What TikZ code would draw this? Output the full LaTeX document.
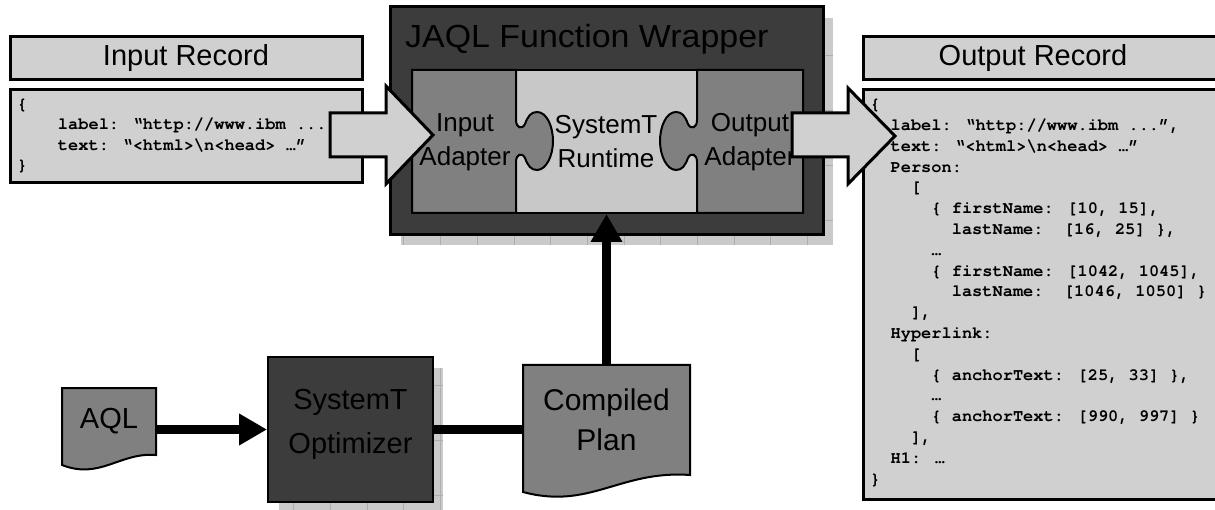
\documentclass[tikz,border=0pt]{standalone}
\usepackage{fontspec}
\setmainfont{Liberation Sans}
\newfontfamily\codefont{texgyrecursor-bold.otf}[Ligatures=NoCommon]
\usetikzlibrary{positioning, arrows.meta, calc}

\definecolor{recgray}{HTML}{D0D0D0}
\definecolor{rungray}{HTML}{C8C8C8}
\definecolor{midgray}{HTML}{808080}
\definecolor{wrapgray}{HTML}{3C3C3C}
\definecolor{shadowgray}{HTML}{CACACA}
\definecolor{gridgray}{HTML}{ADADAD}
\newcommand\ind[1]{\hspace*{#1em}}

\begin{document}
\begin{tikzpicture}
[x=1pt,y=-1pt,
 recbox/.style={draw,line width=3pt,fill=recgray,inner sep=0pt},
 rectitle/.style={font=\fontsize{29}{34}\selectfont,inner sep=0pt},
 code/.style={font=\codefont\fontsize{17}{20.8}\selectfont,
              align=left,inner sep=0pt,anchor=north west},
 darkbox/.style={draw,line width=2.5pt,fill=wrapgray,inner sep=0pt},
 piece/.style={draw,line width=2pt,fill=midgray},
 piecetext/.style={font=\fontsize{26}{34}\selectfont,align=center,inner sep=0pt},
 doc/.style={draw,line width=2pt,fill=midgray},
 doctext/.style={inner sep=0pt,align=center},
 shadowbox/.style={fill=shadowgray},
 shadowgrid/.style={draw=gridgray,line width=0.6pt,xstep=36.7pt,ystep=55pt},
 flow/.style={line width=9pt,-{Triangle[length=28pt,width=30pt]}},
 bigarrow/.style={draw,line width=3pt,fill=recgray,line join=miter}]

\clip (0,0) rectangle (1215,510);

% wrapper with its shadow
\fill[shadowbox] (400,17) rectangle (833,245);
\draw[shadowgrid] (400,17) grid (833,245);
\draw[white,line width=0.8pt] (400,17) rectangle (833,245);
\node[darkbox,line width=3pt,minimum width=433pt,minimum height=228pt] (wrapper) at (606.5,121) {};
\node[font=\fontsize{32}{38}\selectfont\addfontfeatures{FakeStretch=1.06},anchor=west,inner sep=0pt] (wraptitle) at (405,39) {JAQL Function Wrapper};

\node[draw,line width=2pt,fill=rungray,minimum width=391pt,minimum height=143pt,inner sep=0pt] (inner) at (607.5,141.5) {};
\draw[piece] (412,70) -- (516,70) -- (516,120)
  .. controls (516,128) and (522,130) .. (525,124)
  .. controls (528,116) and (531,112) .. (537,112)
  .. controls (547,112) and (553,127) .. (553,141)
  .. controls (553,156) and (546,170) .. (537,170)
  .. controls (531,170) and (528,166) .. (525,158)
  .. controls (522,152) and (516,154) .. (516,162)
  -- (516,213) -- (412,213) -- cycle;
\draw[piece] (803,70) -- (697,70) -- (697,120)
  .. controls (697,128) and (691,130) .. (688,124)
  .. controls (685,116) and (682,112) .. (676,112)
  .. controls (666,112) and (660,127) .. (660,141)
  .. controls (660,156) and (667,170) .. (676,170)
  .. controls (682,170) and (685,166) .. (688,158)
  .. controls (691,152) and (697,154) .. (697,162)
  -- (697,213) -- (803,213) -- cycle;
\node[piecetext] (inadapter) at (465,142) {Input\\Adapter};
\node[piecetext] (runtime) at (606,142) {SystemT\\Runtime};
\node[piecetext] (outadapter) at (750,142) {Output\\Adapter};

% records
\node[recbox,rectitle,minimum width=352pt,minimum height=43pt] (intitle) at (186,58.5) {Input Record};
\node[recbox,minimum width=352pt,minimum height=93pt] (inrec) at (186,136.5) {};
\node[code] (incode) at (17,99) {\{\\[-0.6pt]
\ind{2.4}label: “http://www.ibm ...\\[-0.6pt]
\ind{2.4}text: “<html>\textbackslash n<head> …”\\[-0.6pt]
\}};

\node[recbox,minimum width=362pt,minimum height=43pt] (outtitle) at (1044,58.5) {};
\node[rectitle] (outtitletext) at (1033,58.5) {Output Record};
\node[recbox,minimum width=362pt,minimum height=409pt] (outrec) at (1044,294.5) {};
\node[code] (outcode) at (870,99) {\{\\
\ind{1.2}label: “http://www.ibm ...”,\\
\ind{1.2}text: “<html>\textbackslash n<head> …”\\
\ind{1.2}Person:\\
\ind{2.4}[\\
\ind{3.6}\{ firstName: [10, 15],\\
\ind{4.8}lastName:~~[16, 25] \},\\
\ind{3.6}…\\
\ind{3.6}\{ firstName: [1042, 1045],\\
\ind{4.8}lastName:~~[1046, 1050] \}\\
\ind{2.4}],\\
\ind{1.2}Hyperlink:\\
\ind{2.4}[\\
\ind{3.6}\{ anchorText: [25, 33] \},\\
\ind{3.6}…\\
\ind{3.6}\{ anchorText: [990, 997] \}\\
\ind{2.4}],\\
\ind{1.2}H1: …\\
\}};

% compile chain
\fill[shadowbox] (278,367) rectangle (443,515);
\draw[shadowgrid] (278,367) grid (443,515);
\draw[white,line width=0.8pt] (278,367) rectangle (443,515);
\node[darkbox,line width=2pt,minimum width=165pt,minimum height=145pt,text depth=17pt,
      font=\fontsize{29}{44}\selectfont,align=center] (optimizer) at (350.5,429.5) {SystemT\\Optimizer};

\draw[doc] (62,388) -- (156,388) -- (156,455)
  .. controls (120,452) and (100,480) .. (62,465) -- cycle;
\node[doctext,font=\fontsize{29}{34}\selectfont,minimum width=94pt,minimum height=67pt] (aql) at (109,421.5) {AQL};

\draw[doc] (523,365) -- (690,365) -- (690,475)
  .. controls (620,470) and (590,510) .. (523,492) -- cycle;
\node[doctext,font=\fontsize{30}{40}\selectfont,minimum width=167pt,minimum height=110pt] (plan) at (606.5,420) {Compiled\\Plan};

\draw[flow] (aql.east |- optimizer) -- (optimizer.west);
\draw[line width=9pt] (optimizer.east) -- (plan.west |- optimizer.east);
\draw[flow] (plan.north) -- (plan.north |- inner.south);

% block arrows
\draw[bigarrow] (330,113) -- (386,113) -- (386,86) -- (433,135) -- (386,184) -- (386,157) -- (330,157) -- cycle;
\draw[bigarrow] (792,113) -- (848,113) -- (848,88) -- (895,136) -- (848,184) -- (848,157) -- (792,157) -- cycle;
\end{tikzpicture}
\end{document}
